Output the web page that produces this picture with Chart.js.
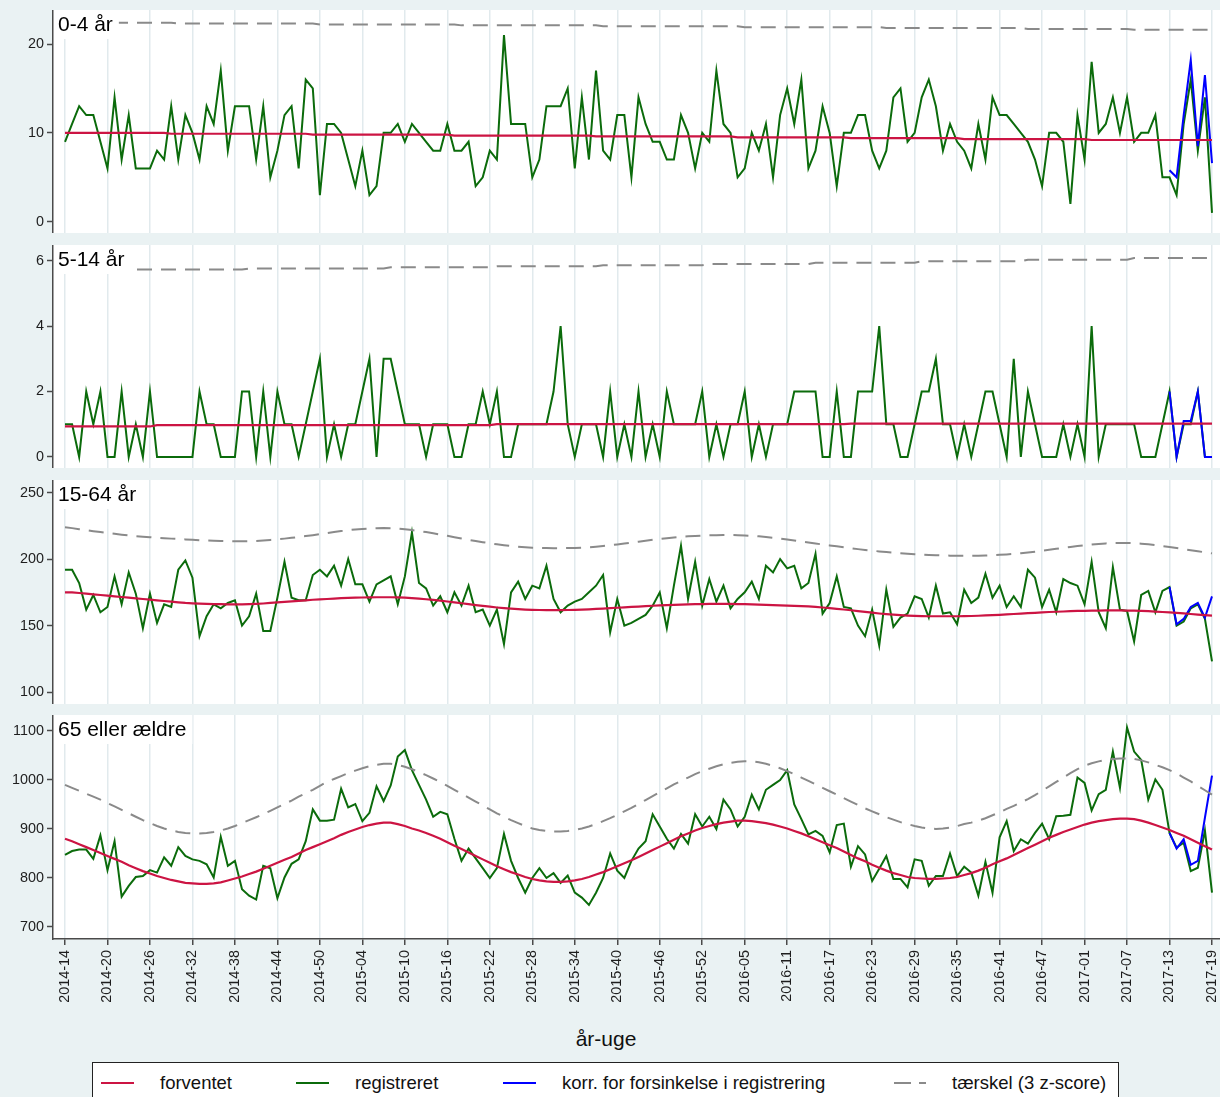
<!DOCTYPE html>
<html>
<head>
<meta charset="utf-8">
<script src="https://cdn.jsdelivr.net/npm/chart.js@4.4.1/dist/chart.umd.min.js"></script>
<style>
  html, body { margin:0; padding:0; background:#eaf2f3; width:1220px; height:1097px; overflow:hidden;
    font-family:"Liberation Sans", Arial, sans-serif; }
  canvas { position:absolute; left:0; }
  #xtitle { position:absolute; left:0; width:1212px; top:1027px; text-align:center; font-size:21px; line-height:24px; color:#111; }
  #legend { position:absolute; left:92px; top:1062px; width:1025px; height:60px; background:#fff; border:1px solid #222; }
  #legend .sw { position:absolute; top:18.5px; height:2.2px; }
  #legend span { position:absolute; top:10px; font-size:18.5px; line-height:20px; color:#111; white-space:nowrap; }
</style>
</head>
<body>
<canvas id="c1" width="1220" height="223" style="top:10px"></canvas>
<canvas id="c2" width="1220" height="223" style="top:245px"></canvas>
<canvas id="c3" width="1220" height="224" style="top:480px"></canvas>
<canvas id="c4" width="1220" height="294" style="top:715px"></canvas>
<div id="xtitle">år-uge</div>
<div id="legend">
  <div class="sw" style="left:8px;width:33px;background:#cc1443"></div><span style="left:67px">forventet</span>
  <div class="sw" style="left:203px;width:33px;background:#0b6b0b"></div><span style="left:262px">registreret</span>
  <div class="sw" style="left:410px;width:33px;background:#0000ff"></div><span style="left:469px">korr. for forsinkelse i registrering</span>
  <div class="sw" style="left:801px;width:17px;background:#8a8a8a"></div><div class="sw" style="left:826px;width:7px;background:#8a8a8a"></div><span style="left:859px">tærskel (3 z-score)</span>
</div>
<script>
// x-axis tick labels (year-week), one every 6 weeks starting at week index 0
const tickLabels = ['2014-14','2014-20','2014-26','2014-32','2014-38','2014-44','2014-50','2015-04','2015-10',
  '2015-16','2015-22','2015-28','2015-34','2015-40','2015-46','2015-52','2016-05','2016-11','2016-17','2016-23',
  '2016-29','2016-35','2016-41','2016-47','2017-01','2017-07','2017-13','2017-19'];
const tickPos = [0,6,12,18,24,30,36,42,48,54,60,66,72,78,84,90,96,102,108,114,120,126,132,138,144,150,156,162];
const corrStart = 156; // first week with delay-corrected counts

// ---- 0-4 år ----
const exp04 = [
  10,10,10,10,10,10,10,10,10,10, 10,10,10,10,10,9.9,9.9,9.9,9.9,9.9,
  9.9,9.9,9.9,9.9,9.9,9.9,9.9,9.9,9.9,9.9, 9.9,9.9,9.9,9.9,9.9,9.8,9.8,9.8,9.8,9.8,
  9.8,9.8,9.8,9.8,9.8,9.8,9.8,9.8,9.8,9.8, 9.8,9.8,9.8,9.8,9.8,9.7,9.7,9.7,9.7,9.7,
  9.7,9.7,9.7,9.7,9.7,9.7,9.7,9.7,9.7,9.7, 9.7,9.7,9.7,9.7,9.7,9.6,9.6,9.6,9.6,9.6,
  9.6,9.6,9.6,9.6,9.6,9.6,9.6,9.6,9.6,9.6, 9.6,9.6,9.6,9.6,9.6,9.5,9.5,9.5,9.5,9.5,
  9.5,9.5,9.5,9.5,9.5,9.5,9.5,9.5,9.5,9.5, 9.5,9.4,9.4,9.4,9.4,9.4,9.4,9.4,9.4,9.4,
  9.4,9.4,9.4,9.4,9.4,9.4,9.4,9.3,9.3,9.3, 9.3,9.3,9.3,9.3,9.3,9.3,9.3,9.3,9.3,9.3,
  9.3,9.3,9.3,9.3,9.3,9.2,9.2,9.2,9.2,9.2, 9.2,9.2,9.2,9.2,9.2,9.2,9.2,9.2,9.2,9.2,
  9.2,9.2,9.2];
const thr04 = [
  22.4,22.4,22.4,22.4,22.4,22.4,22.4,22.4,22.4,22.4, 22.4,22.4,22.4,22.4,22.4,22.4,22.3,22.3,22.3,22.3,
  22.3,22.3,22.3,22.3,22.3,22.3,22.3,22.3,22.3,22.3, 22.3,22.3,22.3,22.3,22.3,22.3,22.2,22.2,22.2,22.2,
  22.2,22.2,22.2,22.2,22.2,22.2,22.2,22.2,22.2,22.2, 22.2,22.2,22.2,22.2,22.2,22.2,22.1,22.1,22.1,22.1,
  22.1,22.1,22.1,22.1,22.1,22.1,22.1,22.1,22.1,22.1, 22.1,22.1,22.1,22.1,22.1,22.1,22,22,22,22,
  22,22,22,22,22,22,22,22,22,22, 22,22,22,22,22,22,21.9,21.9,21.9,21.9,
  21.9,21.9,21.9,21.9,21.9,21.9,21.9,21.9,21.9,21.9, 21.9,21.9,21.9,21.9,21.9,21.9,21.8,21.8,21.8,21.8,
  21.8,21.8,21.8,21.8,21.8,21.8,21.8,21.8,21.8,21.8, 21.8,21.8,21.8,21.8,21.8,21.8,21.7,21.7,21.7,21.7,
  21.7,21.7,21.7,21.7,21.7,21.7,21.7,21.7,21.7,21.7, 21.7,21.6,21.6,21.6,21.6,21.6,21.6,21.6,21.6,21.6,
  21.6,21.6,21.6];
const reg04 = [
  9,11,13,12,12,9,6,14,7,12, 6,6,6,8,7,13,7,12,10,7,
  13,11,17,8,13,13,13,7,13,5, 8,12,13,6,16,15,3,11,11,10,
  7,4,8,3,4,10,10,11,9,11, 10,9,8,8,11,8,8,9,4,5,
  8,7,21,11,11,11,5,7,13,13, 13,15,6,14,7,17,8,7,12,12,
  5,14,11,9,9,7,7,12,10,6, 10,9,17,11,10,5,6,10,8,11,
  5,12,15,11,16,6,8,13,10,4, 10,10,12,12,8,6,8,14,15,9,
  10,14,16,13,8,11,9,8,6,11, 7,14,12,12,11,10,9,7,4,10,
  10,9,2,12,7,18,10,11,14,10, 14,9,10,10,12,5,5,3,11,16,
  8,14,1];
const corr04 = [5.8,5,12,18.2,8.5,16.5,6.6];

// ---- 5-14 år ----
const exp514 = [
  0.93,0.93,0.93,0.93,0.93,0.93,0.93,0.93,0.93,0.93, 0.93,0.93,0.93,0.97,0.97,0.97,0.97,0.97,0.97,0.97,
  0.97,0.97,0.97,0.97,0.97,0.97,0.97,0.97,0.97,0.97, 0.97,0.97,0.97,0.97,0.97,0.97,0.97,0.97,0.97,0.97,
  0.97,0.97,0.97,0.97,0.97,0.97,0.97,0.97,0.97,0.97, 0.97,0.97,0.97,0.97,0.97,0.97,0.97,0.97,0.97,0.97,
  0.97,1,1,1,1,1,1,1,1,1, 1,1,1,1,1,1,1,1,1,1,
  1,1,1,1,1,1,1,1,1,1, 1,1,1,1,1,1,1,1,1,1,
  1,1,1,1,1,1,1,1,1,1, 1,1.02,1.02,1.02,1.02,1.02,1.02,1.02,1.02,1.02,
  1.02,1.02,1.02,1.02,1.02,1.02,1.02,1.02,1.02,1.02, 1.02,1.02,1.02,1.02,1.02,1.02,1.02,1.02,1.02,1.02,
  1.02,1.02,1.02,1.02,1.02,1.02,1.02,1.02,1.02,1.02, 1.02,1.02,1.02,1.02,1.02,1.02,1.02,1.02,1.02,1.02,
  1.02,1.02,1.02];
const thr514 = [
  5.73,5.73,5.73,5.73,5.73,5.73,5.73,5.73,5.73,5.73, 5.73,5.73,5.73,5.73,5.73,5.73,5.73,5.73,5.73,5.73,
  5.73,5.73,5.73,5.73,5.73,5.73,5.76,5.76,5.76,5.76, 5.76,5.76,5.76,5.76,5.76,5.76,5.76,5.76,5.76,5.76,
  5.76,5.76,5.76,5.76,5.76,5.76,5.8,5.8,5.8,5.8, 5.8,5.8,5.8,5.8,5.8,5.8,5.8,5.8,5.8,5.8,
  5.8,5.83,5.83,5.83,5.83,5.83,5.83,5.83,5.83,5.83, 5.83,5.83,5.83,5.83,5.83,5.83,5.86,5.86,5.86,5.86,
  5.86,5.86,5.86,5.86,5.86,5.86,5.86,5.86,5.86,5.86, 5.86,5.9,5.9,5.9,5.9,5.9,5.9,5.9,5.9,5.9,
  5.9,5.9,5.9,5.9,5.9,5.9,5.94,5.94,5.94,5.94, 5.94,5.94,5.94,5.94,5.94,5.94,5.94,5.94,5.94,5.94,
  5.94,5.98,5.98,5.98,5.98,5.98,5.98,5.98,5.98,5.98, 5.98,5.98,5.98,5.98,5.98,5.98,6.03,6.03,6.03,6.03,
  6.03,6.03,6.03,6.03,6.03,6.03,6.03,6.03,6.03,6.03, 6.03,6.08,6.08,6.08,6.08,6.08,6.08,6.08,6.08,6.08,
  6.08,6.08,6.08];
const reg514 = [
  1,1,0,2,1,2,0,0,2,0, 1,0,2,0,0,0,0,0,0,2,
  1,1,0,0,0,2,2,0,2,0, 2,1,1,0,1,2,3,0,1,0,
  1,1,2,3,0,3,3,2,1,1, 1,0,1,1,1,0,0,1,1,2,
  1,2,0,0,1,1,1,1,1,2, 4,1,0,1,1,1,0,2,0,1,
  0,2,0,1,0,2,1,1,1,1, 2,0,1,0,1,1,2,0,1,0,
  1,1,1,2,2,2,2,0,0,2, 0,0,2,2,2,4,1,1,0,0,
  1,2,2,3,1,1,0,1,0,1, 2,2,1,0,3,0,2,1,0,0,
  0,1,0,1,0,4,0,1,1,1, 1,1,0,0,0,1,2,0,1,1,
  2,0,0];
const corr514 = [2,0,1.1,1.1,2,0,0];

// ---- 15-64 år ----
const exp1564 = [
  175,175,174.5,174,173.5,173,172.5,172,171.5,171, 170.5,170,169.5,169,168.5,168,167.5,167,166.7,166.5,
  166.3,166.2,166.1,166,166,166,166.1,166.3,166.6,167, 167.4,167.8,168.2,168.6,169,169.4,169.7,170,170.3,170.6,
  170.8,171,171.1,171.2,171.3,171.3,171.3,171.2,171,170.7, 170.3,169.8,169.3,168.7,168.1,167.5,166.8,166.1,165.4,164.8,
  164.2,163.6,163.1,162.7,162.3,162,161.8,161.7,161.6,161.6, 161.6,161.7,161.8,162,162.2,162.5,162.8,163.1,163.4,163.7,
  164,164.3,164.6,164.9,165.2,165.4,165.6,165.8,166,166.1, 166.2,166.3,166.3,166.3,166.3,166.2,166.1,166,165.8,165.6,
  165.4,165.2,165,164.8,164.6,164.4,164,163.6,163.1,162.6, 162.1,161.5,160.9,160.3,159.7,159.1,158.6,158.2,157.8,157.5,
  157.3,157.1,157,157,157,157,157,157.1,157.2,157.4, 157.6,157.8,158.1,158.4,158.7,159,159.3,159.6,159.9,160.2,
  160.4,160.6,160.8,161,161.1,161.2,161.3,161.4,161.4,161.4, 161.3,161.2,161,160.8,160.5,160.2,159.9,159.5,159.1,158.7,
  158.3,157.9,157.5];
const thr1564 = [
  224,223.3,222.5,221.8,221,220.3,219.6,219,218.4,217.8, 217.3,216.9,216.5,216.1,215.7,215.4,215.1,214.8,214.5,214.2,
  214,213.8,213.6,213.5,213.4,213.4,213.5,213.7,214,214.4, 214.9,215.4,216,216.6,217.3,218,218.8,219.6,220.4,221.1,
  221.7,222.3,222.7,223,223.2,223.3,223.2,222.9,222.4,221.8, 221.1,220.3,219.4,218.5,217.5,216.5,215.5,214.5,213.6,212.7,
  211.9,211.1,210.4,209.8,209.3,208.9,208.6,208.4,208.3,208.2, 208.2,208.3,208.4,208.6,208.9,209.3,209.8,210.4,211,211.7,
  212.4,213.1,213.8,214.5,215.1,215.7,216.2,216.7,217.1,217.4, 217.7,217.9,218,218.1,218.1,218,217.8,217.5,217.1,216.6,
  216,215.4,214.7,214,213.2,212.4,211.7,211,210.3,209.6, 208.9,208.2,207.5,206.9,206.3,205.8,205.3,204.8,204.4,204,
  203.7,203.4,203.1,202.9,202.7,202.6,202.5,202.5,202.5,202.6, 202.7,202.9,203.2,203.5,203.9,204.4,205,205.6,206.3,207,
  207.7,208.4,209.1,209.8,210.4,210.9,211.4,211.8,212.1,212.2, 212.2,212,211.6,211.1,210.5,209.8,209.1,208.3,207.5,206.7,
  205.9,205.1,204.3];
const reg1564 = [
  192,192,182,162,173,160,164,187,166,190, 174,148,174,152,166,164,192,199,186,142,
  157,166,163,167,169,150,157,174,146,146, 171,198,171,169,169,188,192,187,195,180,
  200,181,181,168,181,184,187,166,187,220, 182,178,165,172,160,175,165,180,160,162,
  150,162,136,175,183,170,180,178,195,170, 160,165,168,170,175,180,188,145,170,150,
  152,155,158,165,175,148,180,210,170,198, 165,185,168,180,163,170,175,183,170,195,
  190,200,193,195,178,182,204,159,167,187, 164,163,150,142,162,135,177,149,156,159,
  172,170,156,180,159,160,151,177,167,171, 189,171,180,164,172,164,192,186,164,177,
  160,185,182,180,166,198,160,148,194,162, 161,138,173,176,160,176,179,150,153,163,
  166,155,123];
const corr1564 = [179,151,155,164,167,156,172];

// ---- 65 eller ældre ----
const exp65 = [
  880,875,869,863,857,851,845,839,833,826, 820,814,809,804,800,796,793,790,789,788,
  788,789,791,795,799,803,808,813,819,825, 831,837,843,850,857,863,869,875,881,888,
  894,899,904,908,911,913,913,910,906,901, 897,892,886,880,873,866,859,852,845,838,
  831,824,818,812,807,802,798,795,793,792, 792,793,795,798,802,807,812,818,824,830,
  836,843,850,857,864,871,878,885,891,897, 902,906,910,913,915,917,917,916,914,912,
  909,905,901,896,891,885,879,873,867,861, 854,847,840,834,827,821,815,810,806,802,
  800,799,798,798,799,800,802,806,810,815, 821,828,834,840,847,854,861,868,875,882,
  888,894,899,904,909,913,916,918,920,921, 921,920,917,913,908,903,898,892,886,879,
  872,865,858];
const thr65 = [
  990,984,978,972,966,960,953,946,939,932, 925,918,912,906,901,897,894,892,891,891,
  892,894,897,901,906,912,918,924,930,937, 944,951,958,966,973,980,988,996,1002,1008,
  1014,1019,1024,1028,1031,1033,1033,1031,1027,1022, 1016,1010,1003,996,988,980,972,964,956,948,
  940,932,925,918,912,906,901,898,896,895, 895,896,898,901,905,910,916,922,929,936,
  943,951,959,967,975,983,991,998,1005,1012, 1018,1023,1028,1032,1035,1037,1038,1038,1036,1033,
  1029,1024,1018,1012,1005,998,991,984,977,970, 963,956,949,942,936,930,924,919,914,910,
  906,903,901,900,901,903,906,910,913,917, 922,928,934,941,947,954,961,969,978,987,
  996,1005,1014,1022,1029,1034,1038,1041,1043,1044, 1044,1043,1040,1036,1031,1026,1020,1013,1005,997,
  988,979,970];
const reg65 = [
  847,855,858,858,839,887,816,875,762,784, 802,804,816,811,842,825,863,845,838,835,
  828,801,884,825,835,777,764,756,825,820, 759,801,829,838,875,940,917,917,919,982,
  944,951,916,933,987,957,989,1048,1061,1020, 990,960,925,935,930,880,835,860,840,820,
  800,820,890,835,800,770,800,820,800,810, 790,805,770,760,745,770,800,850,815,800,
  835,860,875,930,905,880,860,890,870,930, 905,925,900,960,940,905,925,970,940,980,
  990,1000,1020,950,920,889,896,886,852,908, 911,823,865,848,794,819,845,798,798,781,
  838,835,784,804,804,850,804,823,811,764, 833,770,883,916,855,879,870,892,911,879,
  926,927,929,1005,994,938,971,980,1058,984, 1107,1058,1041,960,1001,980,892,862,872,814,
  821,897,770];
const corr65 = [892,860,879,827,835,923,1009];

// ---- drawing ----
const RED = '#cc1443', GREEN = '#0b6b0b', BLUE = '#0000ff', GRAY = '#8a8a8a';
const AXIS = '#4a4a4a', GRID = '#e1eaed', TXT = '#1e1e1e';
const FONT = 'Liberation Sans, Arial, sans-serif';
const X_MIN = -1.695, X_MAX = 163.13;

const panels = [
  { id:'c1', label:'0-4 år', min:-1.27, max:23.83, ticks:[0,10,20], exp:exp04, thr:thr04, reg:reg04, corr:corr04 },
  { id:'c2', label:'5-14 år', min:-0.34, max:6.48, ticks:[0,2,4,6], exp:exp514, thr:thr514, reg:reg514, corr:corr514 },
  { id:'c3', label:'15-64 år', min:91, max:259.5, ticks:[100,150,200,250], exp:exp1564, thr:thr1564, reg:reg1564, corr:corr1564 },
  { id:'c4', label:'65 eller ældre', min:675.5, max:1132.6, ticks:[700,800,900,1000,1100], exp:exp65, thr:thr65, reg:reg65, corr:corr65, bottom:true }
];

const toPoints = (arr, start = 0) => arr.map((v, i) => ({ x: start + i, y: v }));

// white plot region and the boxed panel caption
const panelDeco = {
  id: 'panelDeco',
  beforeDraw(chart) {
    const { ctx, chartArea: a } = chart;
    ctx.save();
    ctx.fillStyle = '#ffffff';
    ctx.fillRect(a.left, a.top, a.right - a.left, a.bottom - a.top);
    ctx.restore();
  },
  afterDatasetsDraw(chart, args, opts) {
    const { ctx, chartArea: a } = chart;
    ctx.save();
    ctx.font = '21px ' + FONT;
    const w = ctx.measureText(opts.label).width;
    ctx.fillStyle = '#ffffff';
    ctx.fillRect(a.left + 1, a.top, w + 10, 29);
    ctx.fillStyle = '#000000';
    ctx.textBaseline = 'alphabetic';
    ctx.fillText(opts.label, a.left + 5, a.top + 21);
    ctx.restore();
  }
};

panels.forEach(p => {
  const line = { pointRadius: 0, borderWidth: 2, tension: 0, fill: false };
  new Chart(document.getElementById(p.id), {
    type: 'line',
    data: {
      datasets: [
        { ...line, label: 'forventet', data: toPoints(p.exp), borderColor: RED, borderWidth: 2.2 },
        { ...line, label: 'tærskel (3 z-score)', data: toPoints(p.thr), borderColor: GRAY, borderDash: [15, 9] },
        { ...line, label: 'korr. for forsinkelse i registrering', data: toPoints(p.corr, corrStart), borderColor: BLUE },
        { ...line, label: 'registreret', data: toPoints(p.reg), borderColor: GREEN }
      ]
    },
    options: {
      responsive: false,
      animation: false,
      events: [],
      layout: { padding: 0 },
      plugins: { legend: { display: false }, tooltip: { enabled: false }, panelDeco: { label: p.label } },
      scales: {
        x: {
          type: 'linear', min: X_MIN, max: X_MAX,
          afterBuildTicks: s => { s.ticks = tickPos.map(v => ({ value: v })); },
          afterFit: s => { s.height = p.bottom ? 70 : 0; s.paddingLeft = 0; s.paddingRight = 0; },
          grid: { color: GRID, lineWidth: 1.5, drawTicks: !!p.bottom, tickLength: 6, tickColor: AXIS, tickWidth: 1.5 },
          border: { display: !!p.bottom, color: AXIS, width: 1.5 },
          ticks: {
            display: !!p.bottom, autoSkip: false, minRotation: 90, maxRotation: 90, padding: 5,
            color: TXT, font: { family: FONT, size: 14.4 },
            callback: (v, i) => tickLabels[i]
          }
        },
        y: {
          min: p.min, max: p.max,
          afterBuildTicks: s => { s.ticks = p.ticks.map(v => ({ value: v })); },
          afterFit: s => { s.width = 53; s.paddingTop = 0; s.paddingBottom = 0; },
          grid: { drawOnChartArea: false, drawTicks: true, tickLength: 6, tickColor: AXIS, tickWidth: 1.5 },
          border: { display: true, color: AXIS, width: 1.5 },
          ticks: { padding: 3, color: TXT, font: { family: FONT, size: 14.4 }, callback: v => String(v) }
        }
      }
    },
    plugins: [panelDeco]
  });
});
</script>
</body>
</html>
